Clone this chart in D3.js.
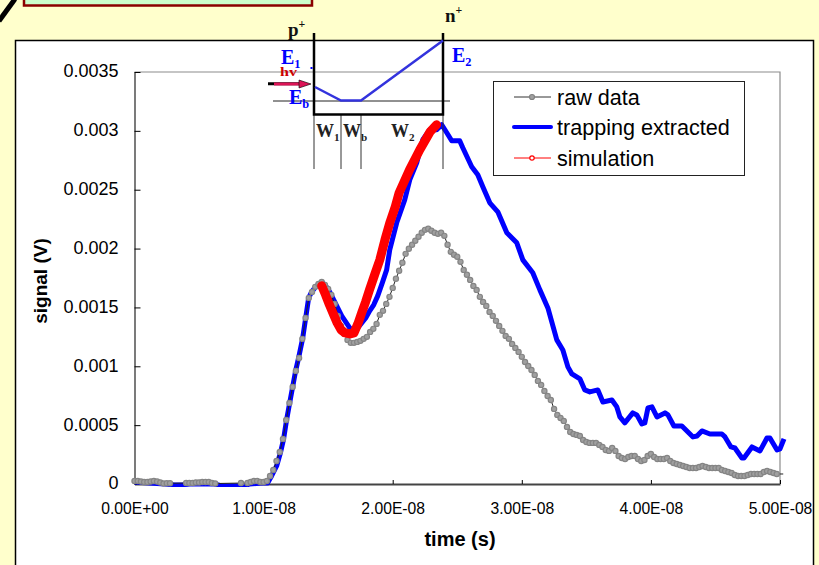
<!DOCTYPE html>
<html>
<head>
<meta charset="utf-8">
<script src="https://cdn.jsdelivr.net/npm/d3@7/dist/d3.min.js"></script>
<style>
	html, body { margin: 0; padding: 0; background: #ffffcc; overflow: hidden; }
	svg { display: block; }
	text { font-family: "Liberation Sans", Arial, sans-serif; fill: #000; }
	.serif { font-family: "Liberation Serif", serif; font-weight: bold; }
</style>
</head>
<body>
<div id="chart"></div>
<script>
// tick labels
var xTicks = [0, 1e-8, 2e-8, 3e-8, 4e-8, 5e-8];
var xTickLabels = ["0.00E+00", "1.00E-08", "2.00E-08", "3.00E-08", "4.00E-08", "5.00E-08"];
var yTicks = [0, 0.0005, 0.001, 0.0015, 0.002, 0.0025, 0.003, 0.0035];
var yTickLabels = ["0", "0.0005", "0.001", "0.0015", "0.002", "0.0025", "0.003", "0.0035"];
var seriesNames = ["raw data", "trapping extracted", "simulation"];

// raw data: one sample every 0.25 ns, microvolts
var rawStepNs = 0.25;
var rawSignal = [
	25, 25, 21, 17, 17, 21, 25, 21, 13, 4,
	6, 6, -4, -8, -8, -4, 8, 8, 8, 13,
	13, 17, 17, 17, 8, 4, -8, -13, -17, -17,
	-13, -8, -4, 8, -4, 8, 17, 25, 25, 17,
	17, 25, 68, 119, 196, 272, 383, 544, 689, 825,
	961, 1071, 1233, 1411, 1581, 1632, 1675, 1700, 1717, 1692,
	1658, 1607, 1530, 1428, 1343, 1275, 1224, 1199, 1199, 1207,
	1216, 1233, 1250, 1292, 1318, 1360, 1437, 1471, 1530, 1590,
	1666, 1743, 1811, 1879, 1955, 1998, 2032, 2066, 2100, 2134,
	2159, 2168, 2151, 2134, 2125, 2134, 2108, 2032, 1972, 1947,
	1930, 1887, 1819, 1777, 1734, 1683, 1649, 1590, 1547, 1513,
	1462, 1428, 1386, 1343, 1301, 1258, 1233, 1190, 1156, 1122,
	1080, 1037, 1003, 969, 927, 876, 842, 791, 748, 714,
	638, 587, 561, 536, 485, 442, 425, 417, 408, 374,
	357, 349, 349, 349, 332, 315, 289, 281, 306, 281,
	238, 221, 213, 230, 238, 238, 213, 196, 204, 238,
	255, 230, 213, 213, 213, 221, 196, 179, 170, 162,
	153, 145, 136, 136, 136, 145, 153, 145, 136, 136,
	136, 136, 119, 111, 102, 94, 77, 68, 68, 68,
	77, 85, 85, 85, 85, 102, 111, 102, 94, 85,
	85, 85
];

// trapping extracted: ns, microvolts
var trappingTime = [
	0, 2.33, 3.10, 3.72, 4.26, 6.20, 6.74, 7.75, 8.53, 8.91,
	9.84, 10.31, 10.62, 11.01, 11.32, 11.55, 11.78, 12.02, 12.25, 12.48,
	12.71, 13.02, 13.26, 13.49, 13.72, 14.03, 14.34, 14.57, 14.81, 15.12,
	15.43, 15.74, 16.05, 16.36, 16.67, 16.98, 17.29, 17.60, 17.91, 18.22,
	18.53, 18.84, 19.22, 19.53, 19.77, 20.31, 20.93, 21.32, 21.86, 22.33,
	22.87, 23.41, 23.80, 24.19, 24.57, 25.19, 25.43, 26.12, 26.59, 26.98,
	27.52, 28.14, 28.84, 29.61, 30.08, 30.85, 31.40, 32.02, 32.71, 33.18,
	33.57, 33.88, 34.50, 34.88, 35.27, 35.89, 36.28, 36.98, 37.36, 37.60,
	37.98, 38.60, 38.91, 39.30, 39.53, 39.77, 40.08, 40.47, 41.09, 41.32,
	41.78, 42.40, 43.26, 43.57, 43.95, 44.57, 45.50, 45.74, 46.20, 46.51,
	47.05, 47.21, 47.83, 48.45, 48.99, 49.22, 49.77, 50.00, 50.31
];
var trappingSignal = [
	17, 0, -8, -8, 0, 0, -17, -17, -17, 0,
	8, 8, 68, 153, 272, 383, 544, 689, 825, 961,
	1071, 1233, 1411, 1581, 1632, 1675, 1700, 1709, 1683, 1632,
	1564, 1496, 1428, 1377, 1326, 1309, 1326, 1369, 1411, 1471,
	1522, 1598, 1717, 1819, 1989, 2219, 2414, 2584, 2729, 2924,
	3009, 3009, 3052, 2984, 2916, 2916, 2856, 2695, 2627, 2525,
	2389, 2312, 2134, 2049, 1904, 1794, 1649, 1496, 1224, 1139,
	995, 935, 893, 799, 782, 799, 697, 714, 655, 570,
	519, 604, 587, 510, 519, 646, 655, 570, 604, 587,
	493, 493, 400, 408, 451, 425, 425, 400, 315, 306,
	221, 221, 315, 281, 391, 391, 289, 298, 383
];

// simulation: ns, microvolts
var simulationTime = [14.5, 14.8, 15.1, 15.4, 15.7, 16.0, 16.3, 16.7, 17.0, 17.3, 17.6, 17.9, 18.2, 18.6, 19.0, 19.4, 19.8, 20.2, 20.5, 21.3, 22.1, 22.9, 23.4];
var simulationSignal = [1684, 1607, 1522, 1445, 1369, 1309, 1284, 1275, 1284, 1360, 1454, 1547, 1649, 1777, 1904, 2074, 2227, 2355, 2474, 2669, 2839, 2992, 3052];

var width = 819, height = 565;
var margin = {left: 134.5, right: 39, top: 72, bottom: 81};

var x = d3.scaleLinear().domain([0, 5e-8]).range([margin.left, width - margin.right]);
var y = d3.scaleLinear().domain([0, 0.0035]).range([height - margin.bottom, margin.top]);

function zipSeries(times, values) {
	return d3.zip(times, values).map(function(d) {
		return {t: d[0] * 1e-9, v: d[1] * 1e-6};
	});
}

var rawData = rawSignal.map(function(d, i) { return {t: i * rawStepNs * 1e-9, v: d * 1e-6}; });
var trappingData = zipSeries(trappingTime, trappingSignal);
var simulationData = zipSeries(simulationTime, simulationSignal);

var svg = d3.select("#chart").append("svg").attr("width", width).attr("height", height);

// slide furniture behind the chart
svg.append("rect").attr("width", width).attr("height", height).attr("fill", "#ffffcc");
svg.append("rect").attr("x", 24).attr("y", -10).attr("width", 288).attr("height", 15.5)
	.attr("fill", "#ccffcc").attr("stroke", "#8b0000").attr("stroke-width", 2.5);
svg.append("line").attr("x1", 15).attr("y1", -1).attr("x2", -1).attr("y2", 21)
	.attr("stroke", "#000").attr("stroke-width", 5);
svg.append("rect").attr("x", 15.5).attr("y", 40.5).attr("width", 798).attr("height", 540)
	.attr("fill", "#fff").attr("stroke", "#000").attr("stroke-width", 1.5);

// plot frame
svg.append("path")
	.attr("d", "M" + x(0) + "," + y(0.0035) + "H" + x(5e-8) + "V" + y(0))
	.attr("fill", "none").attr("stroke", "#8c8c8c").attr("stroke-width", 1.2);

var xAxis = d3.axisBottom(x).tickValues(xTicks).tickSizeInner(-4).tickSizeOuter(0).tickPadding(19)
	.tickFormat(function(d, i) { return xTickLabels[i]; });
var yAxis = d3.axisLeft(y).tickValues(yTicks).tickSizeInner(-6).tickSizeOuter(0).tickPadding(16)
	.tickFormat(function(d, i) { return yTickLabels[i]; });

var xg = svg.append("g").attr("transform", "translate(0," + y(0) + ")").call(xAxis);
xg.select(".domain").attr("stroke", "#444").attr("stroke-width", 2);
xg.selectAll("text").attr("font-size", 15.7).attr("font-family", "Liberation Sans");

var yg = svg.append("g").attr("transform", "translate(" + x(0) + ",0)").call(yAxis);
yg.select(".domain").attr("stroke", "#222").attr("stroke-width", 1.2);
yg.selectAll("text").attr("font-size", 18).attr("font-family", "Liberation Sans").attr("dy", "0.27em");

svg.append("text").attr("x", 460).attr("y", 546).attr("text-anchor", "middle")
	.attr("font-size", 20).attr("font-weight", "bold").text("time (s)");
svg.append("text").attr("transform", "translate(47,281) rotate(-90)").attr("text-anchor", "middle")
	.attr("font-size", 19).attr("font-weight", "bold").text("signal (V)");

// curves, values under zero get cut just below the axis
svg.append("clipPath").attr("id", "plotClip").append("rect")
	.attr("x", 0).attr("y", 0).attr("width", width).attr("height", y(0) + 3);

var line = d3.line().x(function(d) { return x(d.t); }).y(function(d) { return y(d.v); });
var curves = svg.append("g").attr("clip-path", "url(#plotClip)");

curves.append("path").datum(trappingData).attr("d", line)
	.attr("fill", "none").attr("stroke", "#0000ff").attr("stroke-width", 5).attr("stroke-linejoin", "round");

curves.append("path").datum(rawData.filter(function(d) { return d.v >= 0; })).attr("d", line)
	.attr("fill", "none").attr("stroke", "#222").attr("stroke-width", 1);
curves.selectAll(".rawDot")
	.data(rawData.filter(function(d) { return d.v >= 0 && d.t <= 5e-8; }))
	.enter().append("circle").attr("class", "rawDot")
	.attr("cx", function(d) { return x(d.t); })
	.attr("cy", function(d) { return y(d.v); })
	.attr("r", 2.6)
	.attr("fill", "#a0a0a0").attr("stroke", "#858585").attr("stroke-width", 1.2);

curves.append("path").datum(simulationData).attr("d", line)
	.attr("fill", "none").attr("stroke", "#ff0000").attr("stroke-width", 9)
	.attr("stroke-linejoin", "round").attr("stroke-linecap", "round");

// legend
var legend = svg.append("g");
legend.append("rect").attr("x", 493.5).attr("y", 81.5).attr("width", 251).attr("height", 94)
	.attr("fill", "#fff").attr("stroke", "#222").attr("stroke-width", 1);
var legendY = [97, 127, 158];
seriesNames.forEach(function(name, i) {
	var ly = legendY[i];
	legend.append("line").attr("x1", 514).attr("x2", 551).attr("y1", ly).attr("y2", ly)
		.attr("stroke", ["#333", "#0000ff", "#ff0000"][i])
		.attr("stroke-width", i == 1 ? 4 : 1)
		.attr("stroke-linecap", i == 1 ? "round" : "butt");
	if (i != 1) {
		legend.append("circle").attr("cx", 532).attr("cy", ly).attr("r", i == 0 ? 2.5 : 2.2)
			.attr("fill", i == 0 ? "#a0a0a0" : "#fff")
			.attr("stroke", i == 0 ? "#808080" : "#ff0000").attr("stroke-width", 1.2);
	}
	legend.append("text").attr("x", 557).attr("y", ly + 7.5).attr("font-size", 21.6).text(name);
});

// band diagram on top of the plot
var band = svg.append("g");
band.append("line").attr("x1", 273).attr("x2", 450).attr("y1", 101).attr("y2", 101).attr("stroke", "#222").attr("stroke-width", 1);
[314, 341, 361, 443].forEach(function(vx) {
	band.append("line").attr("x1", vx).attr("x2", vx).attr("y1", 115).attr("y2", 169).attr("stroke", "#333").attr("stroke-width", 1);
});
band.append("path").attr("d", "M314,33V114.5H443V33")
	.attr("fill", "none").attr("stroke", "#000").attr("stroke-width", 2.5);
band.append("path").attr("d", "M315,87L341,100.5H361L443,40.5")
	.attr("fill", "none").attr("stroke", "#3333dd").attr("stroke-width", 2.5);
band.append("rect").attr("x", 310.5).attr("y", 67).attr("width", 2).attr("height", 2).attr("fill", "#0000ff");

band.append("path").attr("d", "M268,83.8H302").attr("stroke", "#000").attr("stroke-width", 3);
band.append("path").attr("d", "M274,84H300").attr("stroke", "#dc1456").attr("stroke-width", 3);
band.append("path").attr("d", "M299,80L311,84L299,88Z").attr("fill", "#dc1456").attr("stroke", "#000").attr("stroke-width", 0.6);

function label(tx, ty, main, sub, size, color, sup) {
	var t = band.append("text").attr("class", "serif").attr("x", tx).attr("y", ty)
		.attr("font-size", size).style("fill", color).text(main);
	t.append("tspan").attr("class", "serif").attr("font-size", size * 0.62)
		.attr("dy", sup ? -size * 0.4 : size * 0.22).style("fill", color).text(sub);
}
label(288, 36, "p", "+", 19, "#111", true);
label(445, 22, "n", "+", 19, "#111", true);
label(281, 64, "E", "1", 20, "#0000ff");
label(452, 62, "E", "2", 20, "#0000ff");
label(289, 104, "E", "b", 20, "#0000ff");
label(316, 137, "W", "1", 18, "#222");
label(343, 137, "W", "b", 18, "#222");
label(391, 137, "W", "2", 18, "#222");
band.append("text").attr("class", "serif").attr("x", 280).attr("y", 76).attr("font-size", 12)
	.attr("textLength", 17).attr("lengthAdjust", "spacingAndGlyphs").style("fill", "#cc0000").text("hv");
</script>
</body>
</html>
